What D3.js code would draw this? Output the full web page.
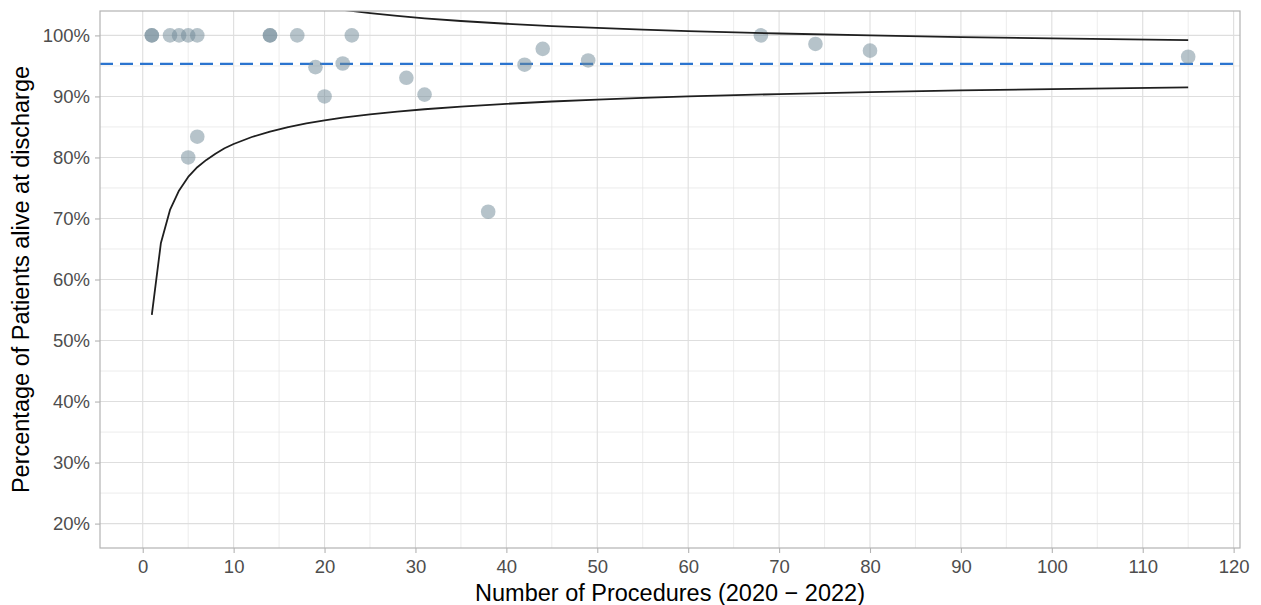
<!DOCTYPE html>
<html>
<head>
<meta charset="utf-8">
<script src="https://cdn.jsdelivr.net/npm/d3@7"></script>
<style>
  body { margin: 0; background: #fff; }
  svg { display: block; font-family: "Liberation Sans", Arial, Helvetica, sans-serif; }
</style>
</head>
<body>
<div id="chart"></div>
<script>
// hospital points: procedures vs % alive at discharge
const procedures = [1, 1, 3, 4, 5, 6, 14, 14, 17, 23, 19, 22, 20, 5, 6, 29, 31, 38, 42, 44, 49, 68, 74, 80, 115];
const survival = [100, 100, 100, 100, 100, 100, 100, 100, 100, 100, 94.8, 95.4, 90, 80, 83.4, 93.05, 90.3, 71.1, 95.2, 97.8, 95.9, 100, 98.6, 97.5, 96.5];

// overall mean (dashed line)
const meanSurvival = 95.35;

// funnel limits
const funnelN = [1, 2, 3, 4, 5, 6, 7, 8, 9, 10, 12, 14, 16, 18, 20, 22, 25, 28, 31, 35, 40, 45, 50, 55, 60, 70, 80, 90, 100, 115];
const lowerLimit = [54.2, 66.0, 71.4, 74.6, 76.8, 78.4, 79.6, 80.6, 81.5, 82.2, 83.35, 84.25, 84.98, 85.57, 86.07, 86.51, 87.05, 87.51, 87.9, 88.34, 88.79, 89.17, 89.48, 89.76, 90.0, 90.39, 90.71, 90.98, 91.2, 91.48];
const upperLimit = [136.5, 124.6, 119.3, 116.1, 113.9, 112.3, 111.0, 110.0, 109.2, 108.5, 107.35, 106.45, 105.72, 105.13, 104.63, 104.19, 103.65, 103.19, 102.8, 102.36, 101.91, 101.53, 101.22, 100.94, 100.7, 100.31, 99.99, 99.72, 99.5, 99.22];

const xTicks = d3.range(0, 121, 10);
const yTicks = d3.range(20, 101, 10);
const xMinor = d3.range(5, 121, 10);
const yMinor = d3.range(25, 101, 10);

const W = 1261, H = 605;
const margin = { top: 11, right: 21, bottom: 57, left: 100 };
const width = W - margin.left - margin.right;
const height = H - margin.top - margin.bottom;

const svg = d3.select("#chart").append("svg")
  .attr("width", W)
  .attr("height", H);

const g = svg.append("g")
  .attr("transform", `translate(${margin.left},${margin.top})`);

const x = d3.scaleLinear().domain([-4.7, 120.7]).range([0, width]);
const y = d3.scaleLinear().domain([16, 104]).range([height, 0]);

g.append("clipPath").attr("id", "panel")
  .append("rect").attr("width", width).attr("height", height);

// grid - minor first, then major
g.selectAll(".xminor").data(xMinor).join("line")
  .attr("x1", d => x(d)).attr("x2", d => x(d))
  .attr("y1", 0).attr("y2", height)
  .attr("stroke", "#e4e4e4").attr("stroke-width", 0.7);
g.selectAll(".yminor").data(yMinor).join("line")
  .attr("y1", d => y(d)).attr("y2", d => y(d))
  .attr("x1", 0).attr("x2", width)
  .attr("stroke", "#e4e4e4").attr("stroke-width", 0.7);
g.selectAll(".xmajor").data(xTicks).join("line")
  .attr("x1", d => x(d)).attr("x2", d => x(d))
  .attr("y1", 0).attr("y2", height)
  .attr("stroke", "#dedede").attr("stroke-width", 1.1);
g.selectAll(".ymajor").data(yTicks).join("line")
  .attr("y1", d => y(d)).attr("y2", d => y(d))
  .attr("x1", 0).attr("x2", width)
  .attr("stroke", "#dedede").attr("stroke-width", 1.1);

const plot = g.append("g").attr("clip-path", "url(#panel)");

// mean line
plot.append("line")
  .attr("x1", 0).attr("x2", width)
  .attr("y1", y(meanSurvival)).attr("y2", y(meanSurvival))
  .attr("stroke", "#2b74cf")
  .attr("stroke-width", 2.2)
  .attr("stroke-dasharray", "13,7");

// points
plot.selectAll("circle").data(procedures).join("circle")
  .attr("cx", d => x(d))
  .attr("cy", (d, i) => y(survival[i]))
  .attr("r", 7.3)
  .attr("fill", "#6d8796")
  .attr("fill-opacity", 0.5);

// funnel
const line = d3.line()
  .x((d, i) => x(funnelN[i]))
  .y(d => y(d));

[lowerLimit, upperLimit].forEach(lim => {
  plot.append("path")
    .attr("d", line(lim))
    .attr("fill", "none")
    .attr("stroke", "#1f1f1f")
    .attr("stroke-width", 1.8)
    .attr("stroke-linejoin", "round");
});

// border
g.append("rect")
  .attr("width", width).attr("height", height)
  .attr("fill", "none")
  .attr("stroke", "#b3b3b3").attr("stroke-width", 1.2);

// axes
const xAxis = g.append("g")
  .attr("transform", `translate(0,${height})`)
  .call(d3.axisBottom(x).tickValues(xTicks).tickSize(5).tickPadding(7));
const yAxis = g.append("g")
  .call(d3.axisLeft(y).tickValues(yTicks).tickFormat(d => d + "%").tickSize(5).tickPadding(5));

[xAxis, yAxis].forEach(a => {
  a.select(".domain").remove();
  a.selectAll(".tick line").attr("stroke", "#b3b3b3").attr("stroke-width", 1.1);
  a.selectAll(".tick text")
    .attr("fill", "#4d4d4d")
    .style("font-size", "18.5px")
    .style("font-family", "'Liberation Sans', Arial, sans-serif");
});

// titles
svg.append("text")
  .attr("x", margin.left + width / 2)
  .attr("y", 601)
  .attr("text-anchor", "middle")
  .style("font-size", "23.5px")
  .attr("fill", "#000")
  .text("Number of Procedures (2020 \u2212 2022)");

svg.append("text")
  .attr("transform", `translate(28.5,${margin.top + height / 2}) rotate(-90)`)
  .attr("text-anchor", "middle")
  .style("font-size", "23.5px")
  .attr("fill", "#000")
  .text("Percentage of Patients alive at discharge");
</script>
</body>
</html>
